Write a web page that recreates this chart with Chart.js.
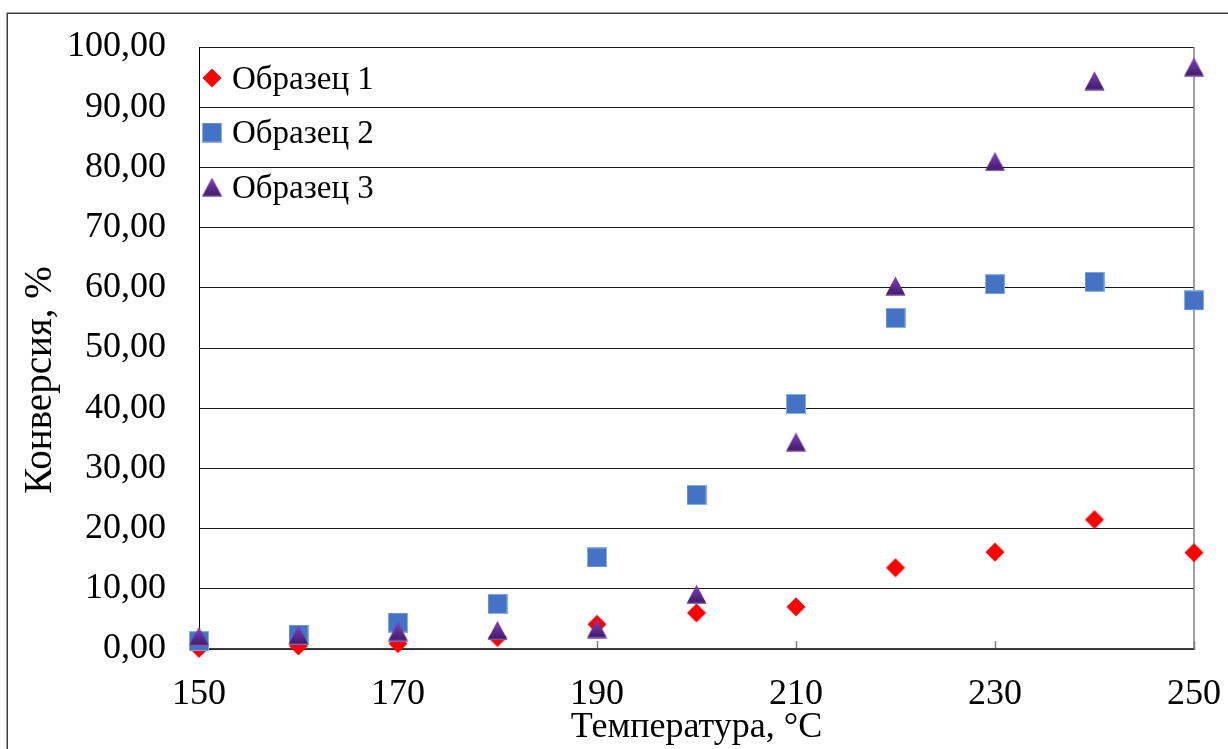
<!DOCTYPE html>
<html lang="ru">
<head>
<meta charset="utf-8">
<title>Конверсия в зависимости от температуры</title>
<script src="https://cdn.jsdelivr.net/npm/chart.js@4.4.1/dist/chart.umd.min.js"></script>
<style>
  html, body { margin: 0; padding: 0; background: #ffffff; }
  #wrap { position: relative; width: 1228px; height: 749px; overflow: hidden; }
  canvas { display: block; }
</style>
</head>
<body>
<div id="wrap"><canvas id="chart" width="1228" height="749"></canvas></div>
<script>
// Temperatures, °C
const temperatures = [150, 160, 170, 180, 190, 200, 210, 220, 230, 240, 250];
// Conversion, %
const sample1 = [0.1, 0.5, 0.9, 1.9, 4.1, 6.0, 7.0, 13.5, 16.1, 21.5, 16.0];
const sample2 = [1.3, 2.4, 4.4, 7.5, 15.2, 25.6, 40.7, 55.0, 60.6, 61.0, 57.9];
const sample3 = [2.1, 2.3, 2.9, 3.1, 3.4, 9.1, 34.4, 60.3, 81.0, 94.4, 96.7];
const seriesNames = ['Образец 1', 'Образец 2', 'Образец 3'];
const xTitle = 'Температура, °C';
const yTitle = 'Конверсия, %';

const FONT = "'Liberation Serif', 'Times New Roman', serif";

// Marker sprites
function makeDiamond() {
  const c = document.createElement('canvas');
  c.width = 20; c.height = 20;
  const g = c.getContext('2d');
  g.beginPath();
  g.moveTo(10, 0.5); g.lineTo(19.5, 10); g.lineTo(10, 19.5); g.lineTo(0.5, 10);
  g.closePath();
  g.fillStyle = '#ff0000';
  g.fill();
  return c;
}
function makeSquare() {
  const c = document.createElement('canvas');
  c.width = 20; c.height = 20;
  const g = c.getContext('2d');
  g.fillStyle = '#4472c4';
  g.fillRect(0.5, 0.5, 19, 19);
  g.strokeStyle = '#86b0e2';
  g.lineWidth = 1;
  g.strokeRect(0.5, 0.5, 19, 19);
  return c;
}
function makeTriangle() {
  const c = document.createElement('canvas');
  c.width = 21; c.height = 20;
  const g = c.getContext('2d');
  const grad = g.createLinearGradient(0, 0, 0, 19);
  grad.addColorStop(0, '#8a3fc8');
  grad.addColorStop(1, '#3e1d66');
  g.beginPath();
  g.moveTo(10.5, 0.5); g.lineTo(20.5, 19.5); g.lineTo(0.5, 19.5);
  g.closePath();
  g.fillStyle = grad;
  g.fill();
  g.beginPath();
  g.moveTo(1, 19.2); g.lineTo(20, 19.2);
  g.strokeStyle = '#9d6ad0';
  g.lineWidth = 1.2;
  g.stroke();
  return c;
}
const markers = [makeDiamond(), makeSquare(), makeTriangle()];

const toPoints = (vals) => temperatures.map((t, i) => ({ x: t, y: vals[i] }));

const datasets = [sample1, sample2, sample3].map((vals, i) => ({
  label: seriesNames[i],
  data: toPoints(vals),
  pointStyle: markers[i],
  pointRadius: 10,
  pointHoverRadius: 10,
  showLine: false,
  clip: false,
  order: 2 - i
}));

// Outer frame and right border of the plot
const framePlugin = {
  id: 'frame',
  beforeDraw(chart) {
    const ctx = chart.ctx;
    ctx.save();
    ctx.fillStyle = '#ffffff';
    ctx.fillRect(0, 0, chart.width, chart.height);
    ctx.strokeStyle = '#404040';
    ctx.lineWidth = 1.5;
    ctx.strokeRect(7.25, 13.25, chart.width + 40, chart.height + 40);
    ctx.restore();
  },
  beforeDatasetsDraw(chart) {
    const { ctx, chartArea } = chart;
    ctx.save();
    ctx.strokeStyle = '#7f7f7f';
    ctx.lineWidth = 1.5;
    ctx.beginPath();
    ctx.moveTo(chartArea.right, chartArea.top);
    ctx.lineTo(chartArea.right, chartArea.bottom);
    ctx.stroke();
    ctx.restore();
  }
};

// Legend inside the plot area, top-left
const insideLegend = {
  id: 'insideLegend',
  afterDatasetsDraw(chart) {
    const { ctx, chartArea } = chart;
    ctx.save();
    ctx.font = `33px ${FONT}`;
    ctx.fillStyle = '#000000';
    ctx.textBaseline = 'middle';
    ctx.textAlign = 'left';
    chart.data.datasets.forEach((ds, i) => {
      const cy = chartArea.top + 31 + i * 54.5;
      const cx = chartArea.left + 13;
      const img = ds.pointStyle;
      ctx.drawImage(img, cx - img.width / 2, cy - img.height / 2);
      ctx.fillText(ds.label, chartArea.left + 33, cy + 2);
    });
    ctx.restore();
  }
};

// Vertical axis title
const yTitlePlugin = {
  id: 'yTitle',
  afterDraw(chart) {
    const { ctx, chartArea } = chart;
    ctx.save();
    ctx.font = `39px ${FONT}`;
    ctx.fillStyle = '#000000';
    ctx.textAlign = 'center';
    ctx.textBaseline = 'middle';
    ctx.translate(41, chartArea.top + 333);
    ctx.rotate(-Math.PI / 2);
    ctx.fillText(yTitle, 0, 0);
    ctx.restore();
  }
};

const fmt = (v) => v.toFixed(2).replace('.', ',');

new Chart(document.getElementById('chart'), {
  type: 'scatter',
  data: { datasets },
  options: {
    responsive: false,
    animation: false,
    devicePixelRatio: 1,
    layout: { padding: { left: 0, right: 34, top: 47, bottom: 0 } },
    plugins: {
      legend: { display: false },
      tooltip: { enabled: false }
    },
    scales: {
      x: {
        type: 'linear',
        min: 150,
        max: 250,
        afterFit(scale) {
          scale.height = 100;
          scale.paddingLeft = 0;
          scale.paddingRight = 0;
        },
        ticks: {
          stepSize: 20,
          padding: 32,
          color: '#000000',
          font: { family: FONT, size: 36 }
        },
        grid: {
          display: true,
          drawOnChartArea: false,
          drawTicks: true,
          tickLength: -8,
          tickColor: '#7f7f7f',
          tickWidth: 1.5
        },
        border: { display: true, color: '#404040', width: 1.5 },
        title: {
          display: true,
          text: xTitle,
          color: '#000000',
          font: { family: FONT, size: 36 },
          padding: { top: 0, bottom: 0 }
        }
      },
      y: {
        type: 'linear',
        min: 0,
        max: 100,
        afterFit(scale) {
          scale.width = 199;
          scale.paddingTop = 0;
          scale.paddingBottom = 0;
        },
        ticks: {
          stepSize: 10,
          padding: 33,
          color: '#000000',
          font: { family: FONT, size: 36 },
          callback: (v) => fmt(v)
        },
        grid: {
          color: '#1a1a1a',
          lineWidth: 1,
          drawTicks: false
        },
        border: { display: true, color: '#000000', width: 1 },
        title: { display: false }
      }
    }
  },
  plugins: [framePlugin, insideLegend, yTitlePlugin]
});
</script>
</body>
</html>
